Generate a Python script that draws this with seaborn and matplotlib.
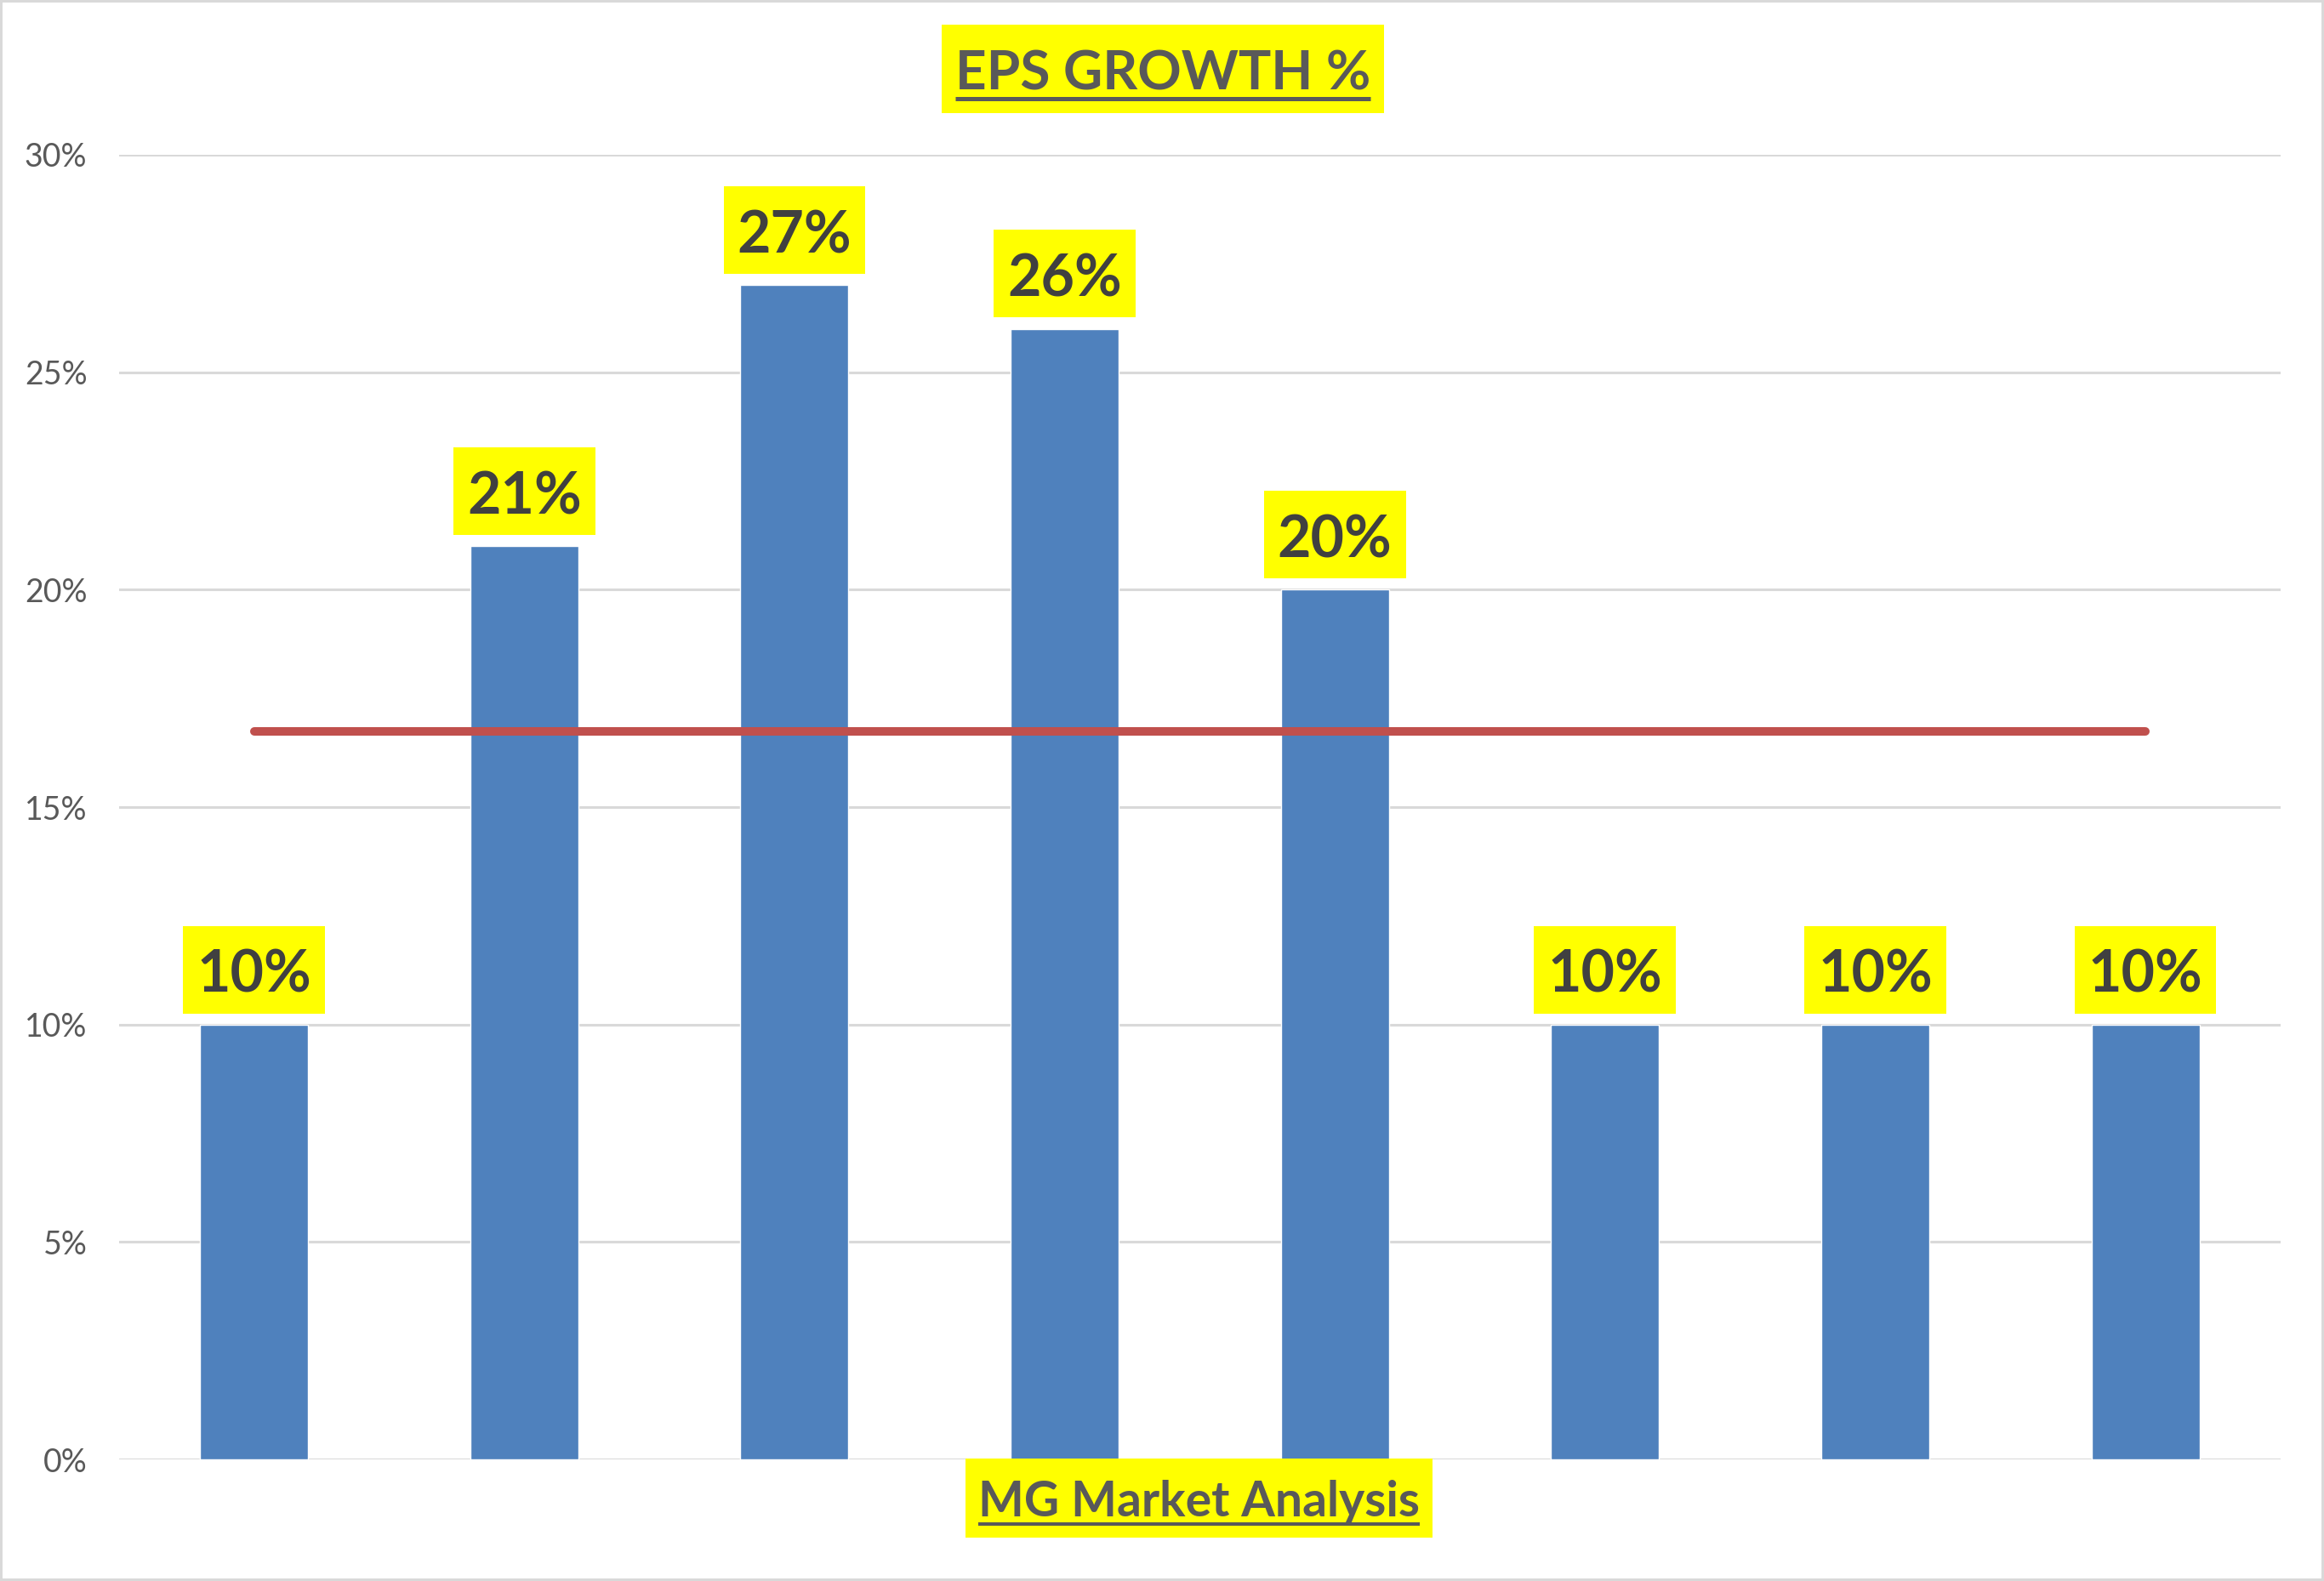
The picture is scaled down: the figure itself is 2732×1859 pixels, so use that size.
import matplotlib
matplotlib.use("Agg")
import matplotlib.pyplot as plt
from matplotlib.patches import Rectangle
from matplotlib.lines import Line2D
from matplotlib.ticker import FuncFormatter
import numpy as np
import pandas as pd
import seaborn as sns

# -- data
categories = ["1", "2", "3", "4", "5", "6", "7", "8"]
eps_growth = [10, 21, 27, 26, 20, 10, 10, 10]
avg_growth = [16.75, 16.75, 16.75, 16.75, 16.75, 16.75, 16.75, 16.75]
y_ticks = [0, 5, 10, 15, 20, 25, 30]

sns.set_style("white")
plt.rcParams["font.family"] = ["Lato", "DejaVu Sans"]

W, H = 2732, 1859
fig = plt.figure(figsize=(W / 100, H / 100), dpi=100)
ax = fig.add_axes([0.0512, 0.0769, 0.9301, 0.8252])

df = pd.DataFrame({"cat": categories, "growth": eps_growth})
sns.barplot(data=df, x="cat", y="growth", color="#4F81BD", saturation=1,
            width=0.4, ax=ax, zorder=2)
sns.lineplot(x=np.arange(len(categories)), y=avg_growth, color="#C0504D",
             lw=7.2, solid_capstyle="round", ax=ax, zorder=3)

ax.set_xlim(-0.5, len(categories) - 0.5)
ax.set_ylim(0, 30)
ax.set_yticks(y_ticks)
ax.yaxis.set_major_formatter(FuncFormatter(lambda v, p: f"{v:.0f}%"))
ax.yaxis.grid(True, color="#D9D9D9", lw=2.2)
ax.set_axisbelow(True)
sns.despine(ax=ax, left=True, bottom=True)
ax.tick_params(axis="y", length=0, pad=27, labelsize=27, labelcolor="#595959")
ax.set_xticks([])
ax.set_xlabel("")
ax.set_ylabel("")

#-- data labels (baseline ~38px above the bar top)
labels = []
for i, v in enumerate(eps_growth):
    a = ax.annotate(f"{v}%", xy=(i, v), xytext=(0, 27.4), textcoords="offset points",
                    ha="center", va="baseline", fontsize=49, fontweight="bold",
                    color="#404040", zorder=5)
    labels.append(a)

#-- title and footer
title = fig.text(0.5004, 0.943, "EPS GROWTH %", ha="center", va="baseline",
                 fontsize=46, fontweight="bold", color="#595959", zorder=5)
footer = fig.text(0.5161, 0.0409, "MG Market Analysis", ha="center", va="baseline",
                  fontsize=41, fontweight="bold", color="#595959", zorder=5)

fig.canvas.draw()
renderer = fig.canvas.get_renderer()


def text_box(t):
    # pixel extent of the glyphs: x0, x1, baseline, cap top
    bb = t.get_window_extent(renderer)
    _, _, d = renderer.get_text_width_height_descent("lp", t.get_fontproperties(), ismath=False)
    base = bb.y0 + d
    cap = base + 0.72 * t.get_fontsize() * 100 / 72
    return bb.x0, bb.x1, base, cap


# yellow boxes behind labels (pads in px: x, above caps, below baseline)
inv = ax.transData.inverted()
for a in labels:
    x0, x1, base, cap = text_box(a)
    (dx0, dy0), (dx1, dy1) = inv.transform([(x0 - 16, base - 25), (x1 + 16, cap + 29)])
    ax.add_patch(Rectangle((dx0, dy0), dx1 - dx0, dy1 - dy0, fc="#FFFF00", ec="none",
                           zorder=4, clip_on=False))

for t, pads, ulw, uoff in [(title, (16, 31, 27), 3.6, 10), (footer, (15, 27, 25), 2.9, 9)]:
    x0, x1, base, cap = text_box(t)
    px, pt, pb = pads
    fig.add_artist(Rectangle(((x0 - px) / W, (base - pb) / H), (x1 - x0 + 2 * px) / W,
                             (cap - base + pt + pb) / H, transform=fig.transFigure,
                             fc="#FFFF00", ec="none", zorder=4))
    y = (base - uoff) / H
    fig.add_artist(Line2D([x0 / W, x1 / W], [y, y], transform=fig.transFigure,
                          color="#595959", lw=ulw, solid_capstyle="butt", zorder=6))

#-- chart border
fig.add_artist(Rectangle((0, 0), 1, 1, transform=fig.transFigure, fill=False,
                         ec="#D9D9D9", lw=4.3, zorder=7))

fig.savefig("out.png", dpi=100)
